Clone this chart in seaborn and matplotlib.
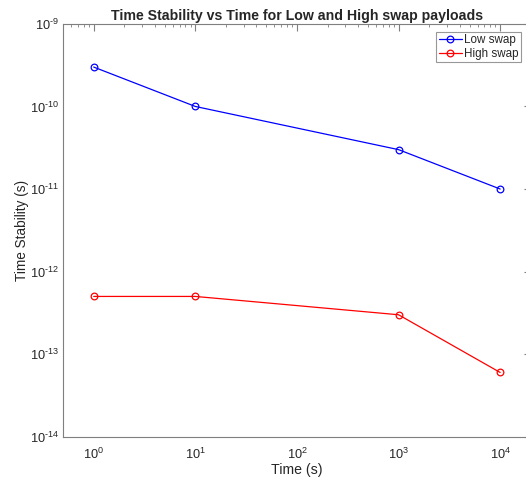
import matplotlib
matplotlib.use("Agg")
import matplotlib.pyplot as plt
import matplotlib.ticker as mticker
import numpy as np
import pandas as pd
import seaborn as sns

times = [1, 10, 1000, 10000]
low_swap = [3e-10, 1e-10, 3e-11, 1e-11]
high_swap = [5e-13, 5e-13, 3e-13, 6e-14]
series_names = ["Low swap", "High swap"]

df = pd.concat([
    pd.DataFrame({"time": times, "stability": low_swap, "payload": series_names[0]}),
    pd.DataFrame({"time": times, "stability": high_swap, "payload": series_names[1]}),
])

sns.set_style("white")
plt.rcParams["font.family"] = ["Liberation Sans", "DejaVu Sans"]
plt.rcParams["mathtext.fontset"] = "custom"
plt.rcParams["mathtext.rm"] = "Liberation Sans"
plt.rcParams["mathtext.it"] = "Liberation Sans"


def pow10(v, pos):
    e = int(round(np.log10(v)))
    return r"$\mathdefault{10^{\text{%d}}}$" % e


fig = plt.figure(figsize=(5.26, 4.78), dpi=100)
ax = fig.add_axes([0.120, 0.0864, 0.889, 0.8636])

sns.lineplot(data=df, x="time", y="stability", hue="payload",
             palette={"Low swap": "#0000ff", "High swap": "#ff0000"},
             marker="o", markersize=4.8, markerfacecolor="none",
             markeredgewidth=0.9, linewidth=0.9, ax=ax, legend=False)
for line in ax.lines:
    line.set_markeredgecolor(line.get_color())

ax.set_xscale("log")
ax.set_yscale("log")
ax.set_xlim(0.5, 2e4)
ax.set_ylim(1e-14, 1e-9)

gray = "#7f7f7f"
for side in ["left", "bottom", "top", "right"]:
    ax.spines[side].set_color(gray)
    ax.spines[side].set_linewidth(0.8)
ax.xaxis.set_major_locator(mticker.LogLocator(base=10, numticks=10))
ax.xaxis.set_minor_locator(mticker.LogLocator(base=10, subs=range(2, 10), numticks=10))
ax.yaxis.set_minor_locator(mticker.LogLocator(base=10, subs=range(2, 10), numticks=10))
ax.xaxis.set_major_formatter(mticker.FuncFormatter(pow10))
ax.yaxis.set_major_formatter(mticker.FuncFormatter(pow10))
ax.tick_params(which="both", direction="in", top=True, right=True, colors=gray,
               labelcolor="#262626", labelsize=9.2)
ax.tick_params(which="major", length=5, width=0.8)
ax.tick_params(axis="x", which="major", pad=7)
ax.tick_params(axis="y", which="major", pad=3)
ax.tick_params(which="minor", length=2.5, width=0.6)

ax.set_xlabel("Time (s)", fontsize=10.2, color="#262626", labelpad=1)
ax.set_ylabel("Time Stability (s)", fontsize=9.8, color="#262626", labelpad=1)
ax.set_title("Time Stability vs Time for Low and High swap payloads",
             fontsize=10.2, fontweight="bold", pad=3)

handles = [plt.Line2D([], [], color=c, marker="o", markersize=4.8, markeredgewidth=0.9,
                      markerfacecolor="none", linewidth=0.9)
           for c in ["#0000ff", "#ff0000"]]
leg = fig.legend(handles, series_names, loc="upper right",
                 bbox_to_anchor=(0.990, 0.933), fontsize=8.4, frameon=True,
                 fancybox=False, borderpad=0.2, handlelength=1.95,
                 handletextpad=0.2, labelspacing=0.15, borderaxespad=0)
leg.get_frame().set_edgecolor(gray)
leg.get_frame().set_linewidth(0.8)

fig.savefig("out.png", dpi=100)
